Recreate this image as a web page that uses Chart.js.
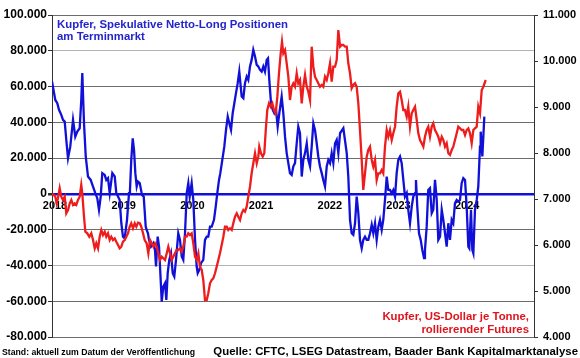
<!DOCTYPE html>
<html>
<head>
<meta charset="utf-8">
<script src="https://cdn.jsdelivr.net/npm/chart.js@4"></script>
<style>
  body { margin: 0; background: #fff; }
  #wrap { width: 580px; height: 358px; }
</style>
</head>
<body>
<div id="wrap"><canvas id="chart" width="580" height="358"></canvas></div>
<script>
// Kupfer: spekulative Netto-Long Positionen (links) vs. Kupferpreis (rechts)

// dates as decimal years
const blueDates = [
  2018.000, 2018.048, 2018.077, 2018.102, 2018.135, 2018.160, 2018.185, 2018.208, 2018.233, 2018.266,
  2018.306, 2018.339, 2018.368, 2018.403, 2018.426, 2018.441, 2018.466, 2018.491, 2018.524, 2018.563,
  2018.597, 2018.630, 2018.659, 2018.684, 2018.709, 2018.732, 2018.767, 2018.790, 2018.815, 2018.840,
  2018.878, 2018.913, 2018.936, 2018.961, 2018.985, 2019.009, 2019.033, 2019.058, 2019.092, 2019.121,
  2019.135, 2019.154, 2019.175, 2019.194, 2019.213, 2019.233, 2019.252, 2019.277, 2019.310, 2019.335,
  2019.364, 2019.378, 2019.397, 2019.412, 2019.441, 2019.475, 2019.499, 2019.514, 2019.538, 2019.558,
  2019.582, 2019.597, 2019.620, 2019.645, 2019.664, 2019.684, 2019.707, 2019.732, 2019.757, 2019.780,
  2019.805, 2019.838, 2019.863, 2019.888, 2019.911, 2019.936, 2019.961, 2019.984, 2020.004, 2020.033,
  2020.057, 2020.082, 2020.106, 2020.121, 2020.144, 2020.169, 2020.202, 2020.227, 2020.252, 2020.275,
  2020.300, 2020.325, 2020.358, 2020.383, 2020.406, 2020.431, 2020.450, 2020.479, 2020.508, 2020.533,
  2020.558, 2020.581, 2020.606, 2020.630, 2020.654, 2020.678, 2020.703, 2020.726, 2020.761, 2020.785,
  2020.809, 2020.834, 2020.857, 2020.882, 2020.906, 2020.930, 2020.955, 2020.980, 2021.003, 2021.028,
  2021.052, 2021.076, 2021.100, 2021.125, 2021.144, 2021.163, 2021.188, 2021.213, 2021.236, 2021.261,
  2021.285, 2021.309, 2021.343, 2021.367, 2021.392, 2021.416, 2021.440, 2021.464, 2021.489, 2021.512,
  2021.537, 2021.562, 2021.585, 2021.610, 2021.635, 2021.658, 2021.683, 2021.708, 2021.731, 2021.756,
  2021.780, 2021.804, 2021.828, 2021.853, 2021.876, 2021.901, 2021.926, 2021.949, 2021.974, 2021.999,
  2022.022, 2022.047, 2022.071, 2022.095, 2022.120, 2022.144, 2022.168, 2022.193, 2022.241, 2022.290,
  2022.313, 2022.338, 2022.362, 2022.386, 2022.411, 2022.435, 2022.459, 2022.483, 2022.508, 2022.531,
  2022.556, 2022.581, 2022.604, 2022.629, 2022.654, 2022.677, 2022.702, 2022.726, 2022.750, 2022.774,
  2022.799, 2022.822, 2022.847, 2022.872, 2022.895, 2022.920, 2022.945, 2022.968, 2022.993, 2023.017,
  2023.041, 2023.066, 2023.090, 2023.114, 2023.138, 2023.163, 2023.186, 2023.211, 2023.236, 2023.259,
  2023.284, 2023.298, 2023.317, 2023.342, 2023.367, 2023.390, 2023.415, 2023.429, 2023.454, 2023.477,
  2023.502, 2023.527, 2023.550, 2023.575, 2023.600, 2023.623, 2023.648, 2023.673, 2023.696, 2023.721,
  2023.745, 2023.769, 2023.793, 2023.818, 2023.841, 2023.866, 2023.891, 2023.914, 2023.939, 2023.963,
  2023.987, 2024.012, 2024.036, 2024.060, 2024.074, 2024.099, 2024.118, 2024.133, 2024.157, 2024.182,
  2024.205, 2024.230, 2024.240, 2024.264, 2024.293
];

// net long positions (contracts)
const blueValues = [
  62800, 52500, 50700, 47000, 44200, 41400, 40400, 30200, 19900, 26400,
  41400, 32000, 34800, 36700, 52500, 67500, 39500, 20900, 9700, 7800,
  4100, 400, -2400, -8900, -1500, 11600, 10600, 7800, 8800, 400,
  11600, 9700, 400, -1500, -3400, -16400, -23900, -24800, -14500, 400,
  2200, 19000, 31100, 24600, 11600, 4100, 6900, 6000, -600, -1500,
  -18300, -20100, -22000, -25700, -29500, -27600, -31300, -40600, -23900, -29500,
  -48100, -60200, -51800, -49900, -59300, -44300, -36900, -33200, -44300, -46200,
  -36900, -22000, -25700, -35000, -36900, -22000, 400, 6000, -1500, 6000,
  -3400, -25700, -40600, -44300, -42500, -38700, -36900, -25700, -23900, -23900,
  -18300, -18300, -14500, -7100, 400, 7800, 11600, 19000, 26400, 35800,
  43200, 39500, 35800, 45100, 50700, 56300, 61900, 68400, 54400, 53500,
  61900, 65600, 63700, 71200, 74900, 80500, 76800, 72100, 71200, 69300,
  68400, 71200, 68400, 74900, 75800, 63700, 50700, 47000, 45100, 47000,
  37600, 45100, 54400, 45100, 32000, 22800, 17200, 11600, 10600, 15300,
  17200, 28300, 37600, 33900, 9700, 19000, 22800, 28300, 19000, 15300,
  26400, 39500, 35800, 28300, 20900, 15300, 11600, 7800, 4100, 15300,
  19000, 17200, 22800, 17200, 28300, 30200, 22800, 33900, 36700, 22800,
  9700, -14500, -22000, -22900, -16400, -1500, -10800, -25700, -30400, -25700,
  -23900, -25700, -25700, -22000, -17300, -22000, -16400, -25700, -18300, -14500,
  -20100, -14500, -3400, 9700, 2200, 2200, 400, 2200, -1500, 11600,
  19000, 20900, 17200, 7800, -1500, 400, -8900, -16400, -7100, -1500,
  400, 7800, -7100, -22000, -25700, -31300, -35900, -31300, -18300, 2200,
  3200, -10800, -8900, 7800, -3400, -25700, -23900, -8900, -14500, -22000,
  -29500, -16400, -25700, -14500, -16400, -5200, -3400, -4300, -3400, 6000,
  8800, 7800, -7100, -29500, -30400, -8900, -31300, -33200, -8900, -3400,
  4100, 26400, 34800, 20900, 43200
];

const redDates = [
  2018.000, 2018.029, 2018.048, 2018.068, 2018.087, 2018.112, 2018.135, 2018.160, 2018.185, 2018.208,
  2018.233, 2018.258, 2018.281, 2018.306, 2018.330, 2018.354, 2018.378, 2018.403, 2018.426, 2018.441,
  2018.466, 2018.485, 2018.514, 2018.543, 2018.572, 2018.597, 2018.622, 2018.645, 2018.670, 2018.694,
  2018.718, 2018.742, 2018.767, 2018.790, 2018.815, 2018.840, 2018.863, 2018.888, 2018.913, 2018.936,
  2018.961, 2018.985, 2019.009, 2019.033, 2019.058, 2019.082, 2019.106, 2019.131, 2019.154, 2019.179,
  2019.204, 2019.227, 2019.252, 2019.277, 2019.300, 2019.325, 2019.349, 2019.378, 2019.402, 2019.427,
  2019.451, 2019.475, 2019.499, 2019.524, 2019.547, 2019.572, 2019.597, 2019.620, 2019.645, 2019.670,
  2019.693, 2019.718, 2019.742, 2019.766, 2019.790, 2019.815, 2019.838, 2019.863, 2019.888, 2019.911,
  2019.936, 2019.961, 2019.984, 2020.009, 2020.033, 2020.057, 2020.082, 2020.106, 2020.130, 2020.154,
  2020.179, 2020.202, 2020.227, 2020.252, 2020.275, 2020.300, 2020.325, 2020.348, 2020.373, 2020.397,
  2020.421, 2020.445, 2020.470, 2020.494, 2020.518, 2020.543, 2020.566, 2020.591, 2020.616, 2020.639,
  2020.664, 2020.689, 2020.712, 2020.737, 2020.761, 2020.785, 2020.809, 2020.834, 2020.857, 2020.882,
  2020.906, 2020.930, 2020.955, 2020.980, 2021.003, 2021.017, 2021.042, 2021.067, 2021.090, 2021.115,
  2021.134, 2021.159, 2021.183, 2021.207, 2021.231, 2021.256, 2021.280, 2021.304, 2021.329, 2021.348,
  2021.367, 2021.392, 2021.416, 2021.440, 2021.464, 2021.489, 2021.512, 2021.537, 2021.562, 2021.585,
  2021.610, 2021.635, 2021.658, 2021.683, 2021.708, 2021.731, 2021.756, 2021.780, 2021.804, 2021.828,
  2021.853, 2021.876, 2021.901, 2021.926, 2021.949, 2021.974, 2021.999, 2022.022, 2022.047, 2022.071,
  2022.095, 2022.120, 2022.144, 2022.168, 2022.193, 2022.218, 2022.241, 2022.266, 2022.290, 2022.313,
  2022.338, 2022.362, 2022.386, 2022.411, 2022.435, 2022.459, 2022.483, 2022.508, 2022.531, 2022.556,
  2022.581, 2022.604, 2022.629, 2022.654, 2022.677, 2022.702, 2022.726, 2022.750, 2022.774, 2022.799,
  2022.822, 2022.847, 2022.872, 2022.895, 2022.920, 2022.945, 2022.968, 2022.993, 2023.017, 2023.041,
  2023.066, 2023.090, 2023.114, 2023.138, 2023.163, 2023.186, 2023.211, 2023.236, 2023.259, 2023.284,
  2023.309, 2023.332, 2023.357, 2023.381, 2023.405, 2023.429, 2023.454, 2023.477, 2023.502, 2023.527,
  2023.550, 2023.575, 2023.600, 2023.623, 2023.648, 2023.673, 2023.696, 2023.721, 2023.745, 2023.769,
  2023.793, 2023.818, 2023.841, 2023.866, 2023.891, 2023.914, 2023.939, 2023.963, 2023.987, 2024.012,
  2024.036, 2024.060, 2024.085, 2024.109, 2024.133, 2024.157, 2024.182, 2024.205, 2024.230, 2024.255,
  2024.279, 2024.313
];

// copper price, USD per tonne
const redValues = [
  7109, 7087, 7050, 6906, 7015, 7233, 7050, 6978, 7050, 6689,
  6761, 6906, 6978, 6870, 6906, 6870, 6978, 7050, 7304, 7124,
  6615, 6289, 6254, 6180, 6254, 6109, 5928, 6037, 5928, 6180,
  6326, 6217, 6289, 6180, 6254, 6109, 6180, 6109, 6145, 6072,
  6000, 5928, 5963, 6072, 6109, 6180, 6254, 6398, 6472, 6363,
  6472, 6398, 6485, 6472, 6398, 6254, 6109, 6037, 5819, 6109,
  6037, 5963, 6037, 5963, 5819, 5674, 5746, 5711, 5674, 5819,
  5963, 5819, 5674, 5746, 5819, 5891, 5891, 5928, 5854, 5963,
  6180, 6180, 6254, 6217, 6254, 6037, 5746, 5674, 5819, 5528,
  5457, 5239, 4804, 4804, 4950, 5167, 5239, 5275, 5385, 5528,
  5674, 5819, 6000, 6180, 6398, 6398, 6326, 6363, 6326, 6472,
  6615, 6689, 6615, 6543, 6689, 6761, 6724, 6833, 7050, 7267,
  7559, 7776, 7993, 7776, 7920, 8137, 7993, 7920, 7993, 8572,
  8935, 9080, 9007, 9080, 8935, 8863, 9224, 9733, 10168, 10420,
  10168, 10240, 9950, 9659, 9152, 9441, 9515, 9441, 9733, 9515,
  9587, 9080, 9441, 9696, 9441, 9333, 9152, 10311, 9876, 9659,
  9587, 9515, 9441, 9478, 9441, 9659, 9587, 9733, 9950, 9550,
  9876, 9876, 10022, 10674, 10311, 10348, 10348, 10311, 10311, 9950,
  9733, 9407, 9478, 9515, 9441, 9080, 8500, 7848, 7196, 7559,
  7920, 8065, 8137, 7848, 7702, 7848, 7413, 7559, 7559, 7630,
  7559, 8137, 8500, 8354, 8500, 8283, 8428, 8572, 9007, 9298,
  9333, 9152, 8935, 8935, 8789, 9007, 8572, 8863, 8935, 9007,
  8717, 8428, 8283, 8211, 8137, 8354, 8500, 8572, 8354, 8572,
  8645, 8500, 8428, 8354, 8211, 8354, 8283, 8137, 8211, 7993,
  7957, 8065, 8137, 8283, 8428, 8572, 8537, 8500, 8500, 8391,
  8500, 8537, 8428, 8211, 8500, 8537, 8572, 9007, 8863, 9370,
  9441, 9587
];

const yearTicks = [2018, 2019, 2020, 2021, 2022, 2023, 2024];

const BLUE = '#1010d8';
const RED = '#ee1c1c';
const FONT = 'Arial, "Liberation Sans", sans-serif';

// 12345 -> "12.345"
function fmtNum(v) {
    const s = String(Math.abs(v)).replace(/\B(?=(\d{3})+(?!\d))/g, '.');
    return v < 0 ? '-' + s : s;
}

// extra texts: heading, red series label, footer
const textPlugin = {
    id: 'texts',
    afterDraw(chart) {
        const ctx = chart.ctx;
        ctx.save();
        ctx.textBaseline = 'alphabetic';

        ctx.fillStyle = '#2424cc';
        ctx.font = 'bold 11.4px ' + FONT;
        ctx.textAlign = 'left';
        ctx.fillText('Kupfer, Spekulative Netto-Long Positionen', 57, 28);
        ctx.fillText('am Terminmarkt', 57, 39.5);

        ctx.fillStyle = '#e0141c';
        ctx.textAlign = 'right';
        ctx.fillText('Kupfer, US-Dollar je Tonne,', 529, 320);
        ctx.fillText('rollierender Futures', 529, 333);

        ctx.fillStyle = '#000';
        ctx.font = 'bold 11.4px ' + FONT;
        ctx.textAlign = 'right';
        ctx.fillText('Quelle: CFTC, LSEG Datastream, Baader Bank Kapitalmarktanalyse', 578, 355);

        ctx.font = 'bold 8.7px ' + FONT;
        ctx.textAlign = 'left';
        ctx.fillText('Stand: aktuell zum Datum der Veröffentlichung', 2, 355);
        ctx.restore();
    }
};

const ctx = document.getElementById('chart').getContext('2d');
new Chart(ctx, {
    type: 'line',
    data: {
        datasets: [
            {
                label: 'Netto-Long Positionen',
                data: blueDates.map((d, i) => ({ x: d, y: blueValues[i] })),
                borderColor: BLUE,
                borderWidth: 2.3,
                pointRadius: 0,
                tension: 0,
                yAxisID: 'y',
                order: 1
            },
            {
                label: 'Kupfer, US-Dollar je Tonne',
                data: redDates.map((d, i) => ({ x: d, y: redValues[i] })),
                borderColor: RED,
                borderWidth: 2.3,
                pointRadius: 0,
                tension: 0,
                yAxisID: 'y1',
                order: 0
            }
        ]
    },
    options: {
        responsive: false,
        animation: false,
        devicePixelRatio: 1,
        layout: { padding: { top: 15, bottom: 21, left: 0, right: 0 } },
        plugins: {
            legend: { display: false },
            tooltip: { enabled: false }
        },
        scales: {
            x: {
                type: 'linear',
                position: { y: 0 },
                min: 2018,
                max: 2025.016,
                afterBuildTicks(scale) {
                    scale.ticks = yearTicks.map(v => ({ value: v }));
                },
                grid: { display: false, drawTicks: false },
                border: { display: false },
                ticks: {
                    color: '#000',
                    font: { family: FONT, size: 11, weight: 'bold' },
                    padding: 5,
                    labelOffset: 3,
                    maxRotation: 0,
                    autoSkip: false,
                    callback: v => String(v)
                }
            },
            y: {
                position: 'left',
                min: -80000,
                max: 100000,
                afterFit(scale) { scale.width = 52; },
                grid: {
                    color: c => {
                        if (c.tick && c.tick.value === 0) return BLUE;
                        if (c.tick && (c.tick.value === 80000 || c.tick.value === -40000)) return '#b4b4b4';
                        return '#6c6c6c';
                    },
                    lineWidth: c => (c.tick && c.tick.value === 0 ? 2.5 : 1),
                    tickLength: 4,
                    tickColor: '#333'
                },
                border: { color: '#333', width: 1 },
                ticks: {
                    stepSize: 20000,
                    color: '#000',
                    padding: 1,
                    font: { family: FONT, size: 12, weight: 'bold' },
                    callback: v => fmtNum(v)
                }
            },
            y1: {
                position: 'right',
                min: 4000,
                max: 11000,
                afterFit(scale) { scale.width = 46; },
                grid: { drawOnChartArea: false, tickLength: 4, color: '#333' },
                border: { color: '#333', width: 1 },
                ticks: {
                    stepSize: 1000,
                    color: '#000',
                    padding: 5,
                    font: { family: FONT, size: 11, weight: 'bold' },
                    callback: v => fmtNum(v)
                }
            }
        }
    },
    plugins: [textPlugin]
});
</script>
</body>
</html>
